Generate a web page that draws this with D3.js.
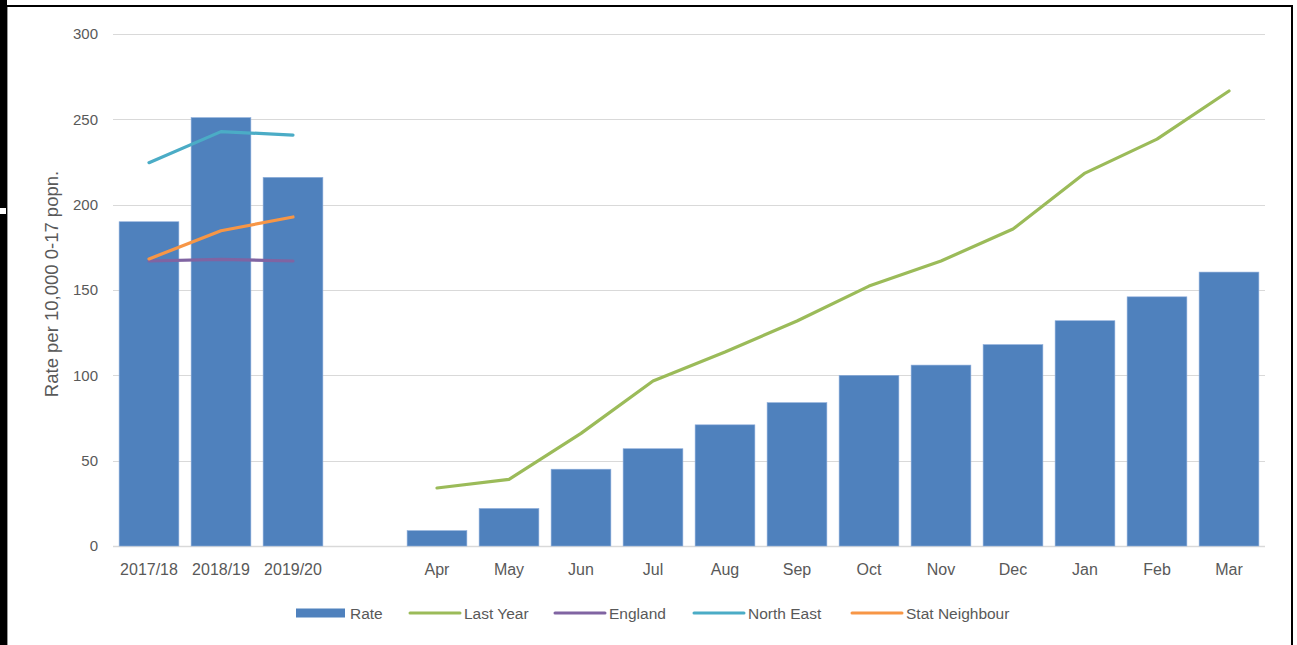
<!DOCTYPE html>
<html>
<head>
<meta charset="utf-8">
<script src="https://cdn.jsdelivr.net/npm/d3@7"></script>
<style>
  body { margin: 0; background: #fff; }
  svg { display: block; font-family: "Liberation Sans", Arial, sans-serif; }
</style>
</head>
<body>
<svg id="chart" width="1297" height="645"></svg>
<script>
// categories along the x axis (one empty slot between the years and the months)
var categories = ["2017/18", "2018/19", "2019/20", "", "Apr", "May", "Jun", "Jul", "Aug", "Sep", "Oct", "Nov", "Dec", "Jan", "Feb", "Mar"];
var rate = [190, 251, 216, null, 9, 22, 45, 57, 71, 84, 100, 106, 118, 132, 146, 160.5];
var lastYear = [null, null, null, null, 34, 39, 66, 96.7, 113.7, 131.8, 152.3, 167, 185.7, 218.5, 238.4, 266.6];
var england = [167, 168, 167];
var northEast = [224.6, 242.8, 240.8];
var statNeighbour = [168.2, 184.7, 192.8];
var yTicks = [0, 50, 100, 150, 200, 250, 300];

var svg = d3.select("#chart");
var W = 1297, H = 645;
var margin = {top: 34, right: 32, bottom: 99, left: 113};
var w = W - margin.left - margin.right, h = H - margin.top - margin.bottom;

// frame (odd black edge on the left of the original)
svg.append("rect").attr("x", 0).attr("y", 0).attr("width", 7).attr("height", H).attr("fill", "#000");
svg.append("line").attr("x1", 7.5).attr("x2", 7.5).attr("y1", 7).attr("y2", H).attr("stroke", "#999");
svg.append("line").attr("x1", 7).attr("x2", 1293).attr("y1", 6).attr("y2", 6).attr("stroke", "#000").attr("stroke-width", 2);
svg.append("line").attr("x1", 1292).attr("x2", 1292).attr("y1", 5).attr("y2", H).attr("stroke", "#000").attr("stroke-width", 2);
svg.append("rect").attr("x", 0).attr("y", 208).attr("width", 6).attr("height", 6).attr("fill", "#fff");

var g = svg.append("g").attr("transform", "translate(" + margin.left + "," + margin.top + ")");

var x = d3.scaleBand().domain(d3.range(categories.length)).range([0, w]).paddingInner(0.17).paddingOuter(0.085);
var y = d3.scaleLinear().domain([0, 300]).range([h, 0]);

// gridlines
g.append("g").selectAll("line").data(yTicks).enter().append("line")
  .attr("x1", 0).attr("x2", w)
  .attr("y1", function(d){ return Math.round(y(d)) + 0.5; })
  .attr("y2", function(d){ return Math.round(y(d)) + 0.5; })
  .attr("stroke", "#d9d9d9").attr("stroke-width", function(d){ return d == 0 ? 1.5 : 1; });

// y axis labels
var yAxis = g.append("g").call(d3.axisLeft(y).tickValues(yTicks).tickSize(0).tickPadding(15));
yAxis.select(".domain").remove();
yAxis.selectAll("text").attr("fill", "#595959").style("font-size", "15px");

// x axis labels
var xAxis = g.append("g").attr("transform", "translate(0," + h + ")")
  .call(d3.axisBottom(x).tickFormat(function(i){ return categories[i]; }).tickSize(0).tickPadding(18));
xAxis.select(".domain").remove();
xAxis.selectAll("text").attr("fill", "#595959").style("font-size", "16px");

// bars
g.append("g").selectAll("rect").data(rate.map(function(v, i){ return {i: i, v: v}; }).filter(function(d){ return d.v != null; }))
  .enter().append("rect")
  .attr("x", function(d){ return x(d.i); })
  .attr("width", x.bandwidth())
  .attr("y", function(d){ return y(d.v); })
  .attr("height", function(d){ return h - y(d.v); })
  .attr("fill", "#4f81bd")
  .attr("stroke", "#8eaedb").attr("stroke-width", 0.6);

function drawLine(values, color){
  var pts = values.map(function(v, i){ return {i: i, v: v}; }).filter(function(d){ return d.v != null; });
  var line = d3.line()
    .x(function(d){ return x(d.i) + x.bandwidth() / 2; })
    .y(function(d){ return y(d.v); });
  g.append("path").datum(pts).attr("d", line)
    .attr("fill", "none").attr("stroke", color).attr("stroke-width", 3.2)
    .attr("stroke-linecap", "round").attr("stroke-linejoin", "round");
}
drawLine(lastYear, "#9bbb59");
drawLine(england, "#8064a2");
drawLine(northEast, "#4bacc6");
drawLine(statNeighbour, "#f79646");

// y axis title
svg.append("text")
  .attr("transform", "translate(58,284) rotate(-90)")
  .attr("text-anchor", "middle")
  .attr("fill", "#595959").style("font-size", "18.5px")
  .text("Rate per 10,000 0-17 popn.");

// legend
var legendItems = [
  {name: "Rate", color: "#4f81bd", type: "rect", x: 296},
  {name: "Last Year", color: "#9bbb59", type: "line", x: 410},
  {name: "England", color: "#8064a2", type: "line", x: 555},
  {name: "North East", color: "#4bacc6", type: "line", x: 694},
  {name: "Stat Neighbour", color: "#f79646", type: "line", x: 852}
];
var leg = svg.append("g").attr("transform", "translate(0,613)");
legendItems.forEach(function(d){
  if (d.type == "rect") {
    leg.append("rect").attr("x", d.x).attr("y", -4.5).attr("width", 49).attr("height", 9).attr("fill", d.color);
  } else {
    leg.append("line").attr("x1", d.x).attr("x2", d.x + 50).attr("y1", 0).attr("y2", 0)
      .attr("stroke", d.color).attr("stroke-width", 3).attr("stroke-linecap", "round");
  }
  leg.append("text").attr("x", d.x + 54).attr("y", 5.5).attr("fill", "#595959").style("font-size", "15.5px").text(d.name);
});
</script>
</body>
</html>
